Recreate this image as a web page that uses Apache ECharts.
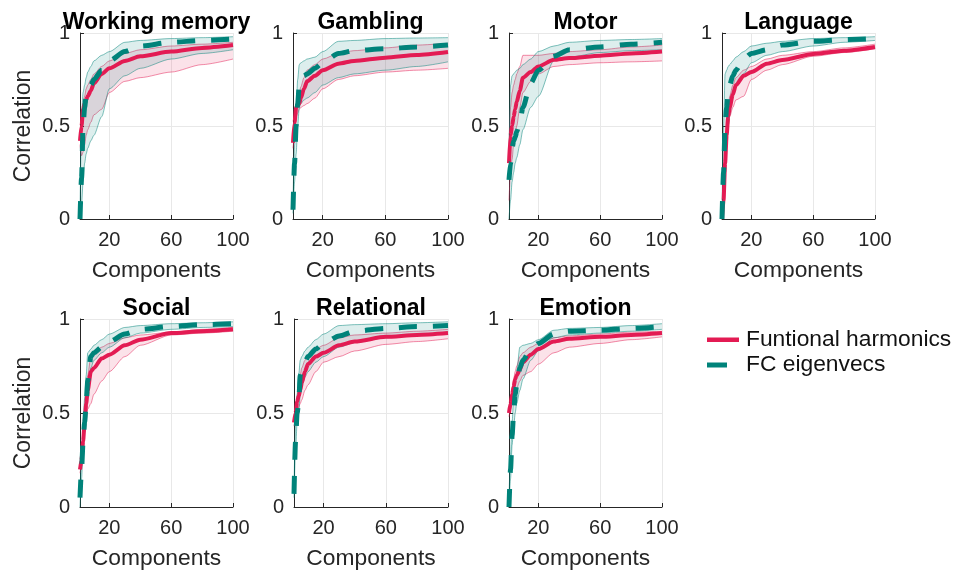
<!DOCTYPE html>
<html>
<head>
<meta charset="utf-8">
<script src="https://cdn.jsdelivr.net/npm/echarts@6/dist/echarts.min.js"></script>
<style>html,body{margin:0;padding:0;background:#fff}#c{width:960px;height:574px}</style>
</head>
<body>
<div id="c"></div>
<script>
// Component counts (x positions of sampled points)
const X = [1,2,3,4,5,6,8,10,15,20,30,40,60,80,100];
const xTicks = [20,60,100];
const yTicks = [0,0.5,1];
const titles = ['Working memory','Gambling','Motor','Language','Social','Relational','Emotion'];
const legendNames = ['Funtional harmonics','FC eigenvecs'];

// Working memory
const wmRedMean = [.42,.50,.59,.62,.64,.66,.69,.73,.78,.81,.85,.875,.90,.92,.935];
const wmRedLo   = [.40,.34,.36,.40,.45,.48,.52,.56,.59,.68,.74,.76,.79,.83,.86];
const wmRedHi   = [.45,.55,.62,.66,.70,.72,.75,.78,.82,.85,.89,.91,.93,.94,.95];
const wmTealMean= [.00,.22,.50,.60,.66,.69,.72,.75,.80,.85,.90,.93,.95,.96,.968];
const wmTealLo  = [.00,.08,.20,.30,.35,.38,.42,.45,.55,.70,.77,.81,.86,.89,.91];
const wmTealHi  = [.02,.55,.68,.72,.76,.79,.82,.85,.88,.90,.95,.96,.97,.975,.98];
// Gambling
const gaRedMean = [.41,.52,.60,.61,.62,.65,.70,.74,.77,.80,.835,.85,.867,.882,.898];
const gaRedLo   = [.38,.45,.55,.57,.59,.60,.61,.62,.65,.70,.75,.77,.79,.80,.81];
const gaRedHi   = [.45,.56,.62,.64,.68,.71,.76,.80,.83,.86,.89,.905,.92,.935,.945];
const gaTealMean= [.05,.30,.50,.62,.72,.75,.77,.78,.81,.84,.89,.905,.915,.925,.935];
const gaTealLo  = [.03,.20,.35,.50,.60,.62,.64,.65,.68,.72,.76,.78,.80,.82,.845];
const gaTealHi  = [.10,.40,.60,.75,.83,.84,.85,.86,.87,.90,.955,.96,.97,.973,.975];
// Motor
const moRedMean = [.30,.45,.50,.55,.59,.63,.69,.76,.79,.82,.856,.865,.878,.89,.90];
const moRedLo   = [.10,.25,.32,.40,.45,.50,.60,.68,.74,.78,.82,.83,.84,.845,.85];
const moRedHi   = [.40,.60,.68,.72,.75,.78,.82,.88,.88,.88,.89,.90,.91,.925,.935];
const moTealMean= [.21,.30,.38,.42,.44,.47,.52,.60,.73,.80,.875,.91,.925,.94,.95];
const moTealLo  = [.00,.10,.20,.25,.30,.33,.40,.48,.60,.66,.85,.87,.895,.905,.91];
const moTealHi  = [.35,.72,.77,.78,.79,.80,.81,.83,.86,.90,.93,.95,.96,.965,.97];
// Language
const laRedMean = [.00,.10,.30,.45,.55,.60,.67,.72,.77,.79,.835,.855,.887,.905,.925];
const laRedLo   = [.00,.06,.25,.38,.50,.55,.60,.64,.66,.75,.80,.83,.875,.895,.915];
const laRedHi   = [.02,.15,.35,.50,.60,.66,.72,.76,.80,.82,.86,.88,.90,.92,.94];
const laTealMean= [.00,.25,.50,.60,.68,.72,.77,.80,.86,.89,.91,.935,.955,.965,.97];
const laTealLo  = [.00,.10,.30,.42,.50,.56,.66,.72,.78,.84,.88,.90,.93,.95,.96];
const laTealHi  = [.02,.50,.78,.80,.82,.83,.85,.87,.90,.93,.945,.955,.97,.975,.98];
// Social
const soRedMean = [.20,.25,.35,.45,.55,.62,.72,.74,.79,.81,.86,.89,.925,.935,.945];
const soRedLo   = [.18,.22,.30,.40,.50,.52,.55,.60,.67,.72,.80,.86,.915,.925,.935];
const soRedHi   = [.25,.30,.40,.52,.62,.70,.80,.82,.85,.87,.90,.915,.93,.945,.955];
const soTealMean= [.05,.20,.35,.45,.55,.67,.80,.82,.85,.88,.92,.945,.96,.97,.975];
const soTealLo  = [.00,.15,.30,.40,.50,.60,.74,.78,.82,.85,.90,.925,.945,.955,.96];
const soTealHi  = [.10,.25,.45,.58,.70,.82,.84,.86,.89,.92,.955,.965,.975,.98,.985];
// Relational
const reRedMean = [.45,.50,.56,.59,.62,.66,.72,.76,.80,.82,.86,.88,.905,.915,.925];
const reRedLo   = [.43,.47,.50,.53,.55,.57,.62,.65,.72,.77,.80,.83,.865,.88,.895];
const reRedHi   = [.47,.53,.58,.64,.70,.74,.78,.80,.84,.86,.90,.915,.925,.935,.945];
const reTealMean= [.07,.35,.50,.55,.70,.73,.77,.80,.84,.87,.91,.935,.95,.96,.965];
const reTealLo  = [.05,.30,.45,.50,.60,.64,.69,.72,.77,.80,.85,.875,.90,.915,.93];
const reTealHi  = [.10,.45,.60,.70,.78,.80,.83,.85,.89,.92,.965,.97,.975,.98,.985];
// Emotion
const emRedMean = [.50,.55,.60,.64,.68,.70,.73,.77,.81,.84,.88,.895,.905,.915,.925];
const emRedLo   = [.48,.52,.55,.58,.60,.63,.67,.70,.72,.76,.82,.85,.87,.89,.905];
const emRedHi   = [.53,.58,.63,.68,.72,.75,.80,.82,.85,.87,.90,.91,.92,.93,.935];
const emTealMean= [.00,.20,.38,.50,.60,.65,.74,.78,.84,.87,.92,.935,.94,.95,.96];
const emTealLo  = [.00,.15,.33,.42,.50,.55,.62,.68,.78,.83,.90,.915,.925,.935,.945];
const emTealHi  = [.05,.28,.45,.58,.65,.72,.85,.86,.87,.89,.94,.95,.955,.965,.975];

const panelData = [
  [wmRedMean,wmRedLo,wmRedHi,wmTealMean,wmTealLo,wmTealHi],
  [gaRedMean,gaRedLo,gaRedHi,gaTealMean,gaTealLo,gaTealHi],
  [moRedMean,moRedLo,moRedHi,moTealMean,moTealLo,moTealHi],
  [laRedMean,laRedLo,laRedHi,laTealMean,laTealLo,laTealHi],
  [soRedMean,soRedLo,soRedHi,soTealMean,soTealLo,soTealHi],
  [reRedMean,reRedLo,reRedHi,reTealMean,reTealLo,reTealHi],
  [emRedMean,emRedLo,emRedHi,emTealMean,emTealLo,emTealHi]
];

const RED = '#E31B53', TEAL = '#00837A';
const RED_FILL = 'rgba(227,27,83,0.18)', TEAL_FILL = 'rgba(0,131,122,0.19)';
const FONT = "'Liberation Sans', Arial, Helvetica, sans-serif";
const TXT = '#262626';

const layout = [
  {left:80, top:33, width:153, height:186},
  {left:293, top:33, width:155, height:186},
  {left:509, top:33, width:153, height:186},
  {left:722, top:33, width:153, height:186},
  {left:80, top:319, width:153, height:188},
  {left:294, top:319, width:154, height:188},
  {left:509, top:319, width:153, height:188}
];

// rows are [y, x] so that the stacked dimension (first value dim) is y
const rows = ys => X.map((x,i)=>[ys[i], x]);
const diffRows = (hi, lo) => X.map((x,i)=>[+(hi[i]-lo[i]).toFixed(4), x]);

const grid = [], xAxis = [], yAxis = [], series = [], title = [];
layout.forEach((g,i)=>{
  grid.push({left:g.left, top:g.top, width:g.width, height:g.height, containLabel:false});
  title.push({
    text: titles[i], left: g.left + g.width/2, top: g.top - 22, textAlign:'center', padding:0,
    textStyle:{fontFamily:FONT, fontWeight:'bold', fontSize:23, color:'#000'}
  });
  xAxis.push({
    type:'value', gridIndex:i, min:1, max:100,
    name:'Components', nameLocation:'middle', nameGap:40,
    nameTextStyle:{fontFamily:FONT, fontSize:22.8, color:TXT},
    axisLine:{show:true, lineStyle:{color:TXT, width:1}},
    axisTick:{show:true, inside:true, length:4, customValues:xTicks, lineStyle:{color:TXT}},
    axisLabel:{customValues:xTicks, margin:11, fontFamily:FONT, fontSize:20, color:TXT},
    splitLine:{show:true, lineStyle:{color:'#e8e8e8', width:1}}
  });
  yAxis.push({
    type:'value', gridIndex:i, min:0, max:1, interval:0.5,
    name: (i===0||i===4) ? 'Correlation' : '', nameLocation:'middle', nameGap:45, nameRotate:90,
    nameTextStyle:{fontFamily:FONT, fontSize:23, color:TXT},
    axisLine:{show:true, lineStyle:{color:TXT, width:1}},
    axisTick:{show:true, inside:true, length:4, lineStyle:{color:TXT}},
    axisLabel:{margin:10, fontFamily:FONT, fontSize:20, color:TXT},
    splitLine:{show:true, lineStyle:{color:'#e8e8e8', width:1}}
  });
  const [rm, rl, rh, tm, tl, th] = panelData[i];
  const common = {type:'line', xAxisIndex:i, yAxisIndex:i, encode:{x:1, y:0}, symbol:'none', smooth:0.25, smoothMonotone:'x', silent:true, animation:false};
  series.push(Object.assign({}, common, {stack:'r'+i, data:rows(rl), lineStyle:{color:RED, width:1, opacity:0.5}, z:1}));
  series.push(Object.assign({}, common, {stack:'r'+i, data:diffRows(rh, rl), lineStyle:{color:RED, width:1, opacity:0.5}, areaStyle:{color:RED_FILL}, z:1}));
  series.push(Object.assign({}, common, {stack:'t'+i, data:rows(tl), lineStyle:{color:TEAL, width:1, opacity:0.5}, z:2}));
  series.push(Object.assign({}, common, {stack:'t'+i, data:diffRows(th, tl), lineStyle:{color:TEAL, width:1, opacity:0.5}, areaStyle:{color:TEAL_FILL}, z:2}));
  series.push(Object.assign({}, common, {name:legendNames[0], data:rows(rm), lineStyle:{color:RED, width:4}, z:3}));
  series.push(Object.assign({}, common, {name:legendNames[1], data:rows(tm), lineStyle:{color:TEAL, width:5, type:[18,16]}, z:4}));
});

const chart = echarts.init(document.getElementById('c'), null, {renderer:'canvas'});
chart.setOption({
  backgroundColor:'#fff',
  animation:false,
  title, grid, xAxis, yAxis, series,
  graphic:[
    {type:'rect', shape:{x:707, y:337.5, width:32, height:4.5}, style:{fill:RED}},
    {type:'text', left:746, top:328, style:{text:legendNames[0], fontFamily:FONT, fontSize:22.8, fill:'#111'}},
    {type:'rect', shape:{x:707, y:362.5, width:20, height:5}, style:{fill:TEAL}},
    {type:'text', left:746, top:353, style:{text:legendNames[1], fontFamily:FONT, fontSize:22.8, fill:'#111'}}
  ]
});
</script>
</body>
</html>
